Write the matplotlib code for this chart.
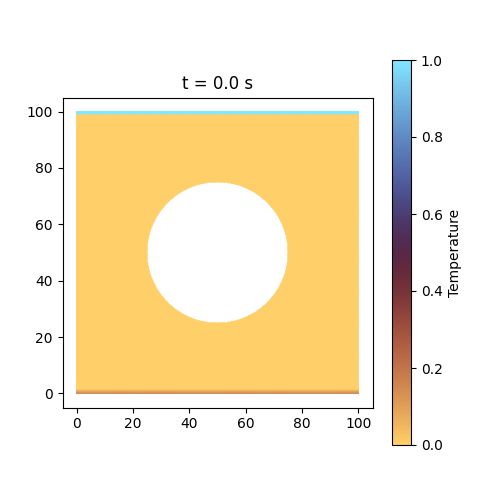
import numpy as np
import matplotlib.pyplot as plt

# domain and obstacle
domain_size = 100.0
spacing = 0.25
hole_center = (50.0, 50.0)
hole_radius = 25.0

# boundary temperatures at t = 0
top_temp = 1.0
top_rows_y = [99.25, 99.5, 99.75, 100.0]
bottom_rows_y = [0.0, 0.25, 0.5, 0.75, 1.0, 1.25, 1.5]
bottom_rows_temp = [0.15, 0.14, 0.12, 0.1, 0.07, 0.04, 0.02]
interior_temp = 0.0

# particle grid
xs = np.arange(0, domain_size + spacing, spacing)
X, Y = np.meshgrid(xs, xs)
X = X.ravel()
Y = Y.ravel()
keep = (X - hole_center[0])**2 + (Y - hole_center[1])**2 > hole_radius**2
X = X[keep]
Y = Y[keep]

T = np.full(X.shape, interior_temp)
for yb, tb in zip(bottom_rows_y, bottom_rows_temp):
    T[np.isclose(Y, yb)] = tb
for yt in top_rows_y:
    T[np.isclose(Y, yt)] = top_temp

fig = plt.figure(figsize=(5, 5), dpi=100)
ax = fig.add_subplot(1, 1, 1)
sc = ax.scatter(X, Y, c=T, cmap='managua', vmin=0, vmax=1, s=0.8, marker='o',
                linewidths=0)
ax.set_aspect('equal')
ax.set_title('t = 0.0 s')
cb = plt.colorbar(sc, ax=ax)
cb.set_label('Temperature')

plt.savefig('out.png')
